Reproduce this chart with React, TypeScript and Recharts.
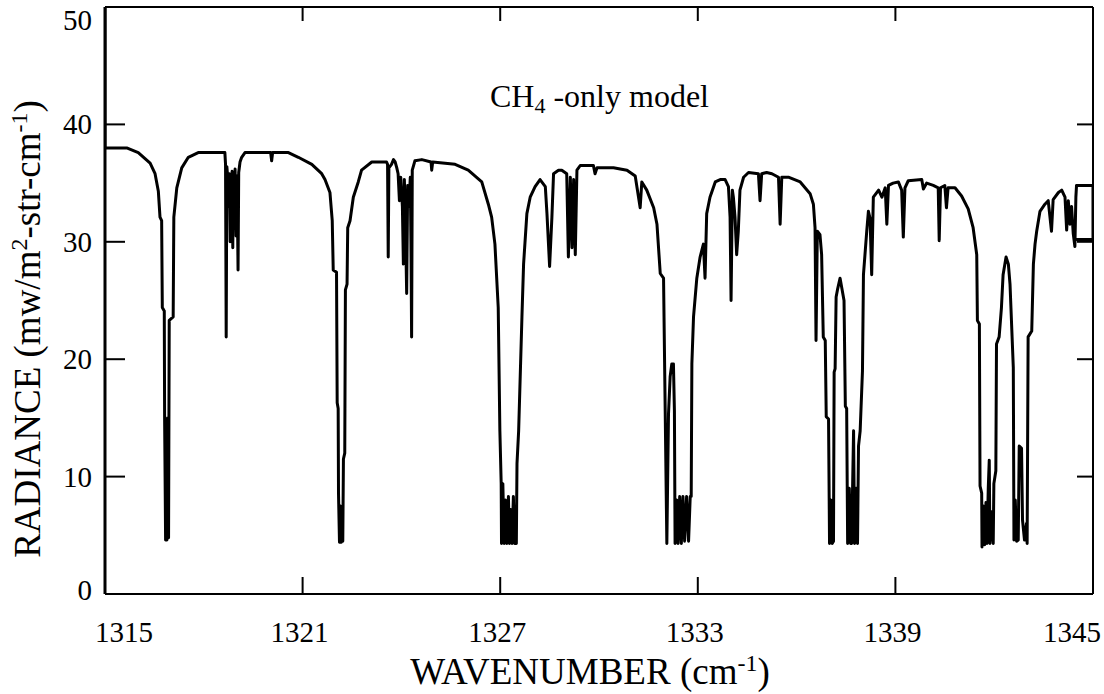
import { LineChart, Line, XAxis, YAxis } from 'recharts';

// CH4-only model radiance spectrum
const wavenumber = [
  // band near 1317
  1315.0, 1315.0, 1315.66, 1316.01, 1316.37, 1316.52, 1316.62, 1316.67, 1316.72, 1316.74,
  1316.8, 1316.81, 1316.84, 1316.86, 1316.88, 1316.9, 1316.93, 1316.95, 1317.07, 1317.09,
  1317.18, 1317.33, 1317.53, 1317.83, 1318.64,
  // weak lines 1318.6 - 1320.6
  1318.66, 1318.68, 1318.7, 1318.74, 1318.76, 1318.78, 1318.8, 1318.82, 1318.84, 1318.86,
  1318.88, 1318.9, 1318.93, 1318.95, 1318.98, 1319.01, 1319.04, 1319.06, 1319.1, 1319.15,
  1319.25, 1320.03, 1320.06, 1320.09, 1320.57,
  // band near 1322
  1320.87, 1321.28, 1321.58, 1321.68, 1321.83, 1321.9, 1321.93, 1322.03, 1322.05, 1322.08,
  1322.09, 1322.12, 1322.15, 1322.17, 1322.2, 1322.22, 1322.24, 1322.28, 1322.3, 1322.35,
  1322.37, 1322.44, 1322.54, 1322.69, 1322.79, 1323.1, 1323.55,
  // weak lines 1323.5 - 1327
  1323.58, 1323.6, 1323.62, 1323.7, 1323.76, 1323.81, 1323.86, 1323.9, 1323.94, 1323.98,
  1324.03, 1324.06, 1324.09, 1324.12, 1324.16, 1324.19, 1324.23, 1324.27, 1324.29, 1324.31,
  1324.33, 1324.41, 1324.62, 1324.9, 1324.92, 1324.95, 1325.63, 1326.03, 1326.44, 1326.64,
  1326.74, 1326.84, 1326.94, 1326.99,
  // band near 1327.2
  1327.03, 1327.04, 1327.08, 1327.12, 1327.16, 1327.2, 1327.25, 1327.28, 1327.32, 1327.36,
  1327.4, 1327.44, 1327.49, 1327.51, 1327.56, 1327.66, 1327.71, 1327.81, 1327.91, 1328.06,
  1328.21, 1328.37, 1328.42, 1328.5, 1328.57, 1328.62, 1328.77, 1328.87, 1329.02, 1329.07,
  1329.13, 1329.18, 1329.23, 1329.28, 1329.33, 1329.43, 1329.83, 1329.88, 1329.94, 1330.44,
  1330.85, 1331.1, 1331.25, 1331.3, 1331.45, 1331.66, 1331.76, 1331.86, 1331.96,
  // band near 1332.4
  1332.01, 1332.06, 1332.11, 1332.16, 1332.21, 1332.26, 1332.29, 1332.31, 1332.36, 1332.4,
  1332.45, 1332.5, 1332.55, 1332.6, 1332.66, 1332.72, 1332.77, 1332.8, 1332.82, 1332.87,
  1332.97, 1333.07, 1333.17, 1333.22, 1333.27, 1333.37, 1333.53, 1333.68, 1333.83, 1333.93,
  1333.98, 1334.01, 1334.05, 1334.08, 1334.13, 1334.18, 1334.23, 1334.28, 1334.39, 1334.54,
  1334.84, 1334.89, 1334.94, 1335.09, 1335.25, 1335.45, 1335.5, 1335.55, 1335.75, 1336.11,
  1336.41, 1336.51,
  // band near 1337.4
  1336.56, 1336.59, 1336.63, 1336.71, 1336.76, 1336.81, 1336.87, 1336.9, 1336.97, 1337.0,
  1337.04, 1337.08, 1337.12, 1337.14, 1337.17, 1337.2, 1337.24, 1337.32, 1337.37, 1337.44,
  1337.48, 1337.52, 1337.55, 1337.6, 1337.64, 1337.67, 1337.73, 1337.76, 1337.81, 1337.85,
  1337.88, 1337.93, 1338.0, 1338.03, 1338.13, 1338.18, 1338.23, 1338.28, 1338.33, 1338.49,
  1338.59, 1338.69, 1338.74, 1338.79,
  // band near 1342.3 and the right edge
  1338.93, 1339.09, 1339.19, 1339.24, 1339.29, 1339.39, 1339.8, 1339.85, 1339.95, 1340.15,
  1340.3, 1340.33, 1340.37, 1340.5, 1340.55, 1340.6, 1340.81, 1341.01, 1341.21, 1341.36,
  1341.47, 1341.49, 1341.55, 1341.57, 1341.62, 1341.63, 1341.67, 1341.71, 1341.75, 1341.78,
  1341.82, 1341.85, 1341.87, 1341.92, 1341.97, 1341.99, 1342.05, 1342.07, 1342.15, 1342.22,
  1342.27, 1342.36, 1342.43, 1342.48, 1342.58, 1342.6, 1342.64, 1342.68, 1342.73, 1342.76,
  1342.83, 1342.86, 1342.92, 1342.98, 1343.0, 1343.03, 1343.14, 1343.19, 1343.24, 1343.29,
  1343.39, 1343.54, 1343.64, 1343.74, 1343.79, 1343.95, 1344.05, 1344.15, 1344.2, 1344.25,
  1344.3, 1344.35, 1344.4, 1344.45, 1344.48, 1344.5, 1345.0, 1345.0, 1344.5,
];

const radiance = [
  50.0, 38.0, 38.0, 37.6, 36.7, 35.8, 34.3, 32.1, 31.8, 24.4,
  24.1, 15.1, 4.6, 14.8, 4.6, 15.0, 4.8, 23.3, 23.6, 32.1,
  34.6, 36.3, 37.2, 37.6, 37.6,

  36.6, 21.9, 36.4, 35.0, 33.0, 35.8, 30.0, 35.5, 32.5, 36.0,
  29.5, 35.0, 31.5, 36.2, 30.5, 35.6, 27.6, 35.9, 36.8, 37.2,
  37.6, 37.6, 36.9, 37.6, 37.6,

  37.2, 36.6, 35.8, 35.3, 34.2, 31.8, 27.6, 27.4, 16.3, 15.8,
  8.6, 4.4, 7.5, 4.4, 7.0, 4.5, 11.5, 12.0, 25.9, 26.4,
  31.2, 31.8, 33.8, 35.1, 36.1, 36.8, 36.8,

  36.6, 28.7, 36.3, 36.6, 37.0, 36.8, 36.3, 35.8, 33.5, 35.5,
  33.0, 28.1, 35.3, 32.0, 25.6, 34.8, 33.0, 35.5, 30.0, 21.9,
  36.1, 36.9, 37.0, 36.8, 36.1, 36.8, 36.6, 36.1, 35.1, 33.2,
  32.1, 29.8, 24.4, 13.9,

  9.4, 4.3, 9.4, 4.3, 8.0, 4.3, 8.3, 4.3, 7.2, 4.3,
  8.3, 4.3, 4.3, 11.1, 13.9, 23.6, 28.1, 32.4, 33.8, 34.7,
  35.3, 34.7, 32.4, 27.9, 32.1, 35.8, 36.1, 36.1, 35.8, 28.7,
  35.5, 29.5, 35.3, 28.9, 36.1, 36.5, 36.5, 35.8, 36.3, 36.3,
  36.1, 35.6, 32.9, 35.1, 34.4, 32.9, 31.5, 27.3, 26.9,

  15.6, 4.3, 15.3, 18.5, 19.6, 19.6, 15.6, 4.3, 8.0, 4.3,
  8.3, 4.3, 8.3, 4.5, 8.3, 4.5, 8.3, 8.3, 19.6, 23.6,
  26.9, 28.7, 29.8, 26.9, 32.4, 33.8, 35.1, 35.3, 35.3, 34.7,
  32.1, 25.0, 34.4, 33.8, 32.1, 28.9, 30.9, 34.4, 35.5, 35.9,
  35.8, 33.5, 35.8, 35.9, 35.8, 35.5, 31.5, 35.5, 35.5, 35.1,
  34.1, 33.2,

  31.2, 21.6, 30.9, 30.6, 28.9, 21.9, 21.6, 15.1, 14.9, 4.3,
  8.0, 4.3, 4.5, 18.9, 19.2, 25.3, 25.9, 26.9, 26.1, 25.0,
  16.0, 15.8, 4.3, 9.0, 4.3, 4.3, 13.9, 4.3, 9.0, 4.3,
  12.6, 13.9, 19.0, 27.2, 30.9, 32.6, 32.0, 27.2, 33.8, 34.4,
  33.8, 34.6, 31.5, 34.8,

  35.0, 35.1, 34.4, 30.4, 34.6, 35.2, 35.3, 34.5, 35.0, 34.8,
  34.6, 30.1, 34.6, 34.8, 32.9, 34.6, 34.6, 33.9, 32.8, 31.2,
  28.9, 23.3, 23.0, 9.2, 8.6, 4.0, 7.5, 4.2, 7.8, 4.3,
  9.0, 11.4, 4.3, 7.0, 4.3, 9.4, 10.5, 21.3, 21.9, 24.4,
  27.2, 28.7, 28.1, 26.4, 19.3, 4.6, 8.0, 4.5, 4.6, 12.6,
  12.4, 6.3, 4.6, 6.0, 4.3, 21.9, 22.4, 28.1, 29.8, 30.9,
  32.6, 33.2, 33.5, 30.9, 33.6, 34.2, 34.4, 33.8, 31.0, 33.5,
  31.5, 33.0, 30.7, 29.6, 33.8, 34.8, 34.8, 30.2, 30.2,
];

const xTicks = [1315, 1321, 1327, 1333, 1339, 1345];
const yTicks = [0, 10, 20, 30, 40, 50];

const data = wavenumber
  .slice(0, Math.min(wavenumber.length, radiance.length))
  .map((w, i) => ({ w, r: radiance[i] }));

const FONT = '"Liberation Serif", "Times New Roman", serif';
const X_MIN = xTicks[0];
const X_MAX = xTicks[xTicks.length - 1];
const Y_MIN = yTicks[0];
const Y_MAX = yTicks[yTicks.length - 1];

// ticks point inward, like the original plot; tickSize/tickMargin are 0 so
// (x, y) handed to these is the plot edge itself
function BottomTick({ x, y, payload }: any) {
  const v = payload.value;
  const edge = v === X_MIN || v === X_MAX;
  const dx = v === X_MIN ? 19 : v === X_MAX ? -21 : -3;
  return (
    <g>
      {!edge && <line x1={x} y1={y} x2={x} y2={y - 17} stroke="#000" strokeWidth={2} />}
      <text x={x + dx} y={y + 48} textAnchor="middle" fontFamily={FONT} fontSize={29} fill="#000">
        {v}
      </text>
    </g>
  );
}

function TopTick({ x, y, payload }: any) {
  const v = payload.value;
  if (v === X_MIN || v === X_MAX) return <g />;
  return <line x1={x} y1={y} x2={x} y2={y + 14} stroke="#000" strokeWidth={2} />;
}

function LeftTick({ x, y, payload }: any) {
  const v = payload.value;
  const edge = v === Y_MIN || v === Y_MAX;
  const dy = v === Y_MAX ? 13 : v === Y_MIN ? -4 : 0;
  return (
    <g>
      {!edge && <line x1={x} y1={y} x2={x + 20} y2={y} stroke="#000" strokeWidth={2} />}
      <text x={x - 13} y={y + dy + 10} textAnchor="end" fontFamily={FONT} fontSize={29} fill="#000">
        {v}
      </text>
    </g>
  );
}

function RightTick({ x, y, payload }: any) {
  const v = payload.value;
  if (v === Y_MIN || v === Y_MAX) return <g />;
  return <line x1={x} y1={y} x2={x - 16} y2={y} stroke="#000" strokeWidth={2} />;
}

export default function App() {
  return (
    <div style={{ position: 'absolute', left: 0, top: 0, width: 1104, height: 694, background: '#fff' }}>
      <LineChart
        width={1104}
        height={694}
        data={data}
        margin={{ top: 2, right: 1, bottom: 60, left: 65 }}
      >
        <XAxis
          xAxisId="b"
          dataKey="w"
          type="number"
          domain={[X_MIN, X_MAX]}
          ticks={xTicks}
          interval={0}
          allowDataOverflow
          height={40}
          tickLine={false}
          tickSize={0}
          tickMargin={0}
          axisLine={{ stroke: '#000', strokeWidth: 2 }}
          tick={BottomTick}
        />
        <XAxis
          xAxisId="t"
          orientation="top"
          dataKey="w"
          type="number"
          domain={[X_MIN, X_MAX]}
          ticks={xTicks}
          interval={0}
          allowDataOverflow
          height={5}
          tickLine={false}
          tickSize={0}
          tickMargin={0}
          axisLine={{ stroke: '#000', strokeWidth: 2 }}
          tick={TopTick}
        />
        <YAxis
          yAxisId="l"
          type="number"
          domain={[Y_MIN, Y_MAX]}
          ticks={yTicks}
          interval={0}
          allowDataOverflow
          width={40}
          tickLine={false}
          tickSize={0}
          tickMargin={0}
          axisLine={{ stroke: '#000', strokeWidth: 3 }}
          tick={LeftTick}
        />
        <YAxis
          yAxisId="r"
          orientation="right"
          type="number"
          domain={[Y_MIN, Y_MAX]}
          ticks={yTicks}
          interval={0}
          allowDataOverflow
          width={10}
          tickLine={false}
          tickSize={0}
          tickMargin={0}
          axisLine={{ stroke: '#000', strokeWidth: 2 }}
          tick={RightTick}
        />
        <Line
          xAxisId="b"
          yAxisId="l"
          dataKey="r"
          type="linear"
          stroke="#000"
          strokeWidth={3}
          strokeLinejoin="round"
          dot={false}
          activeDot={false}
          isAnimationActive={false}
        />
      </LineChart>

      <svg
        width={1104}
        height={694}
        style={{ position: 'absolute', left: 0, top: 0, pointerEvents: 'none' }}
        fontFamily={FONT}
        fill="#000"
      >
        <text x={490} y={107} fontSize={32}>
          CH<tspan dy={6} fontSize={22}>4</tspan>
          <tspan dy={-6}> -only model</tspan>
        </text>
        <text x={590} y={684} fontSize={37} textAnchor="middle">
          WAVENUMBER (cm<tspan dy={-13} fontSize={24}>-1</tspan>
          <tspan dy={13}>)</tspan>
        </text>
        <text transform="translate(40, 329) rotate(-90)" fontSize={37} textAnchor="middle">
          RADIANCE (mw/m<tspan dy={-13} fontSize={24}>2</tspan>
          <tspan dy={13}>-str-cm</tspan>
          <tspan dy={-13} fontSize={24}>-1</tspan>
          <tspan dy={13}>)</tspan>
        </text>
      </svg>
    </div>
  );
}
